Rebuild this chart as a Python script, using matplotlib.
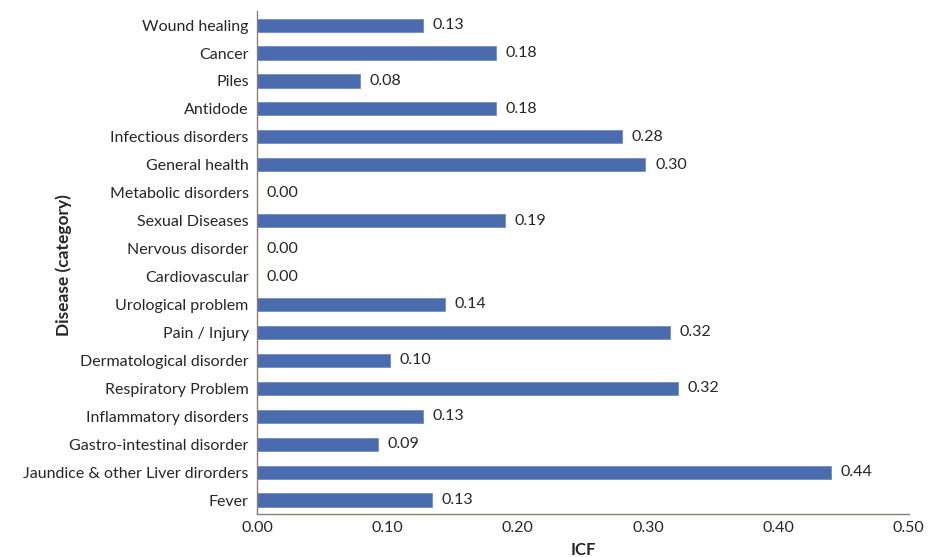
import matplotlib
matplotlib.use("Agg")
import matplotlib.pyplot as plt

categories = [
    "Wound healing", "Cancer", "Piles", "Antidode", "Infectious disorders",
    "General health", "Metabolic disorders", "Sexual Diseases", "Nervous disorder",
    "Cardiovascular", "Urological problem", "Pain / Injury", "Dermatological disorder",
    "Respiratory Problem", "Inflammatory disorders", "Gastro-intestinal disorder",
    "Jaundice & other Liver dirorders", "Fever",
]
icf = [
    0.127, 0.183, 0.079, 0.183, 0.280,
    0.298, 0.0, 0.190, 0.0,
    0.0, 0.144, 0.317, 0.102,
    0.323, 0.127, 0.093,
    0.440, 0.134,
]
xticks = [0.0, 0.1, 0.2, 0.3, 0.4, 0.5]

plt.rcParams["font.family"] = ["Lato", "DejaVu Sans"]
text_color = "#262626"
bar_color = "#4a6cae"
spine_color = "#8a7f74"

fig = plt.figure(figsize=(9.29, 5.57), dpi=100)
ax = fig.add_axes([0.2767, 0.0772, 0.7015, 0.9028])

ypos = list(range(len(categories)))
ax.barh(ypos, icf, height=0.47, color=bar_color, edgecolor="#6f8cc4", linewidth=0.6)

for y, v in zip(ypos, icf):
    ax.annotate(f"{v:.2f}", xy=(v, y), xytext=(7, 0), textcoords="offset points",
                va="center", ha="left", fontsize=11.5, color=text_color)

ax.set_ylim(len(categories) - 0.5, -0.5)
ax.set_xlim(0, 0.5)
ax.set_yticks(ypos)
ax.set_yticklabels(categories, fontsize=11.5, color=text_color)
ax.set_xticks(xticks)
ax.set_xticklabels([f"{t:.2f}" for t in xticks], fontsize=11.5, color=text_color)
ax.tick_params(axis="both", length=0)
ax.tick_params(axis="y", pad=6)
ax.tick_params(axis="x", pad=5)

for side in ("top", "right"):
    ax.spines[side].set_visible(False)
for side in ("left", "bottom"):
    ax.spines[side].set_color(spine_color)
    ax.spines[side].set_linewidth(1.0)

ax.set_xlabel("ICF", fontsize=12, fontweight="bold", color=text_color, labelpad=5)
ax.set_ylabel("Disease (category)", fontsize=12.5, fontweight="bold", color=text_color)
ax.yaxis.set_label_coords(-0.284, 0.495)

fig.savefig("out.png", dpi=100)
